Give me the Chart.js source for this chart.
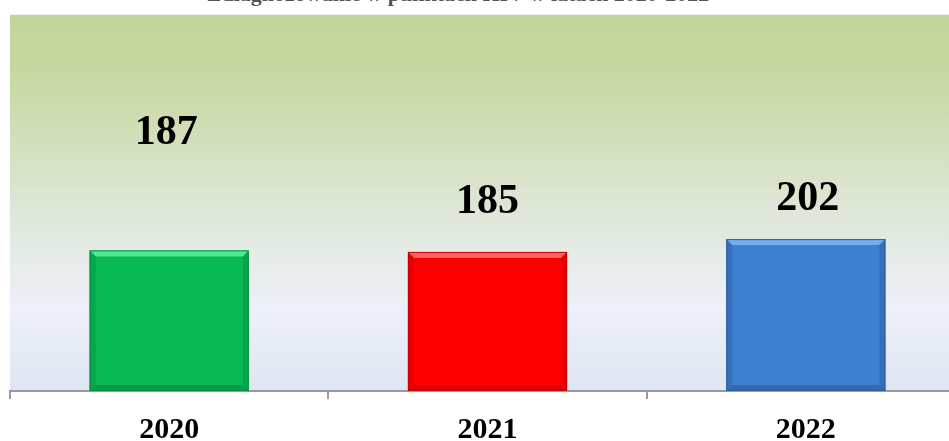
<!DOCTYPE html>
<html lang="pl">
<head>
<meta charset="UTF-8">
<title>HIV 2020-2022</title>
<style>
    html, body { margin: 0; padding: 0; background: #ffffff; overflow: hidden; }
    .chart-container { position: relative; width: 965px; height: 441px; }
</style>
</head>
<body>

<div class="chart-container">
    <canvas id="chart"></canvas>
</div>

<script src="https://cdn.jsdelivr.net/npm/chart.js@4.4.1/dist/chart.umd.min.js"></script>
<script>

// data
const years = ['2020', '2021', '2022'];
const cases = [187, 185, 202];

const titleText = 'Zdiagnozowanie w punktach HIV w latach 2020-2022';

// bar colours: main, light top edge, dark side edge
const barMain = ['#08b955', '#ff0000', '#3f7fcf'];
const barLight = ['#55e592', '#ff6262', '#74aef0'];
const barDark = ['#05913f', '#c80000', '#2d5e9e'];

// label lift above bar top (the original labels were placed by hand)
const labelLift = [117, 50, 40];
const labelShift = [-3, 0, 2];

const serif = '"Liberation Serif", "Times New Roman", serif';

// background of the plot area + the clipped title
const backdrop = {
    id: 'backdrop',
    beforeDraw(chart) {
        const { ctx, chartArea: a } = chart;
        const g = ctx.createLinearGradient(0, a.top, 0, a.bottom);
        g.addColorStop(0, '#c3d699');
        g.addColorStop(0.15, '#c6d8a0');
        g.addColorStop(0.35, '#d3e0bd');
        g.addColorStop(0.58, '#e2e9e1');
        g.addColorStop(0.78, '#edf0f9');
        g.addColorStop(1, '#dfe5f3');
        ctx.save();
        ctx.fillStyle = g;
        ctx.fillRect(a.left, a.top, a.right - a.left, a.bottom - a.top);
        ctx.fillStyle = '#f2f4ee';
        ctx.fillRect(a.left, a.top - 1, a.right - a.left, 1);

        ctx.font = 'bold 22px ' + serif;
        ctx.fillStyle = '#555555';
        ctx.textAlign = 'center';
        ctx.textBaseline = 'alphabetic';
        ctx.fillText(titleText, 458, 1);
        ctx.restore();
    }
};

// bevel look on the bars and the hand placed value labels
const bevel = {
    id: 'bevel',
    afterDatasetsDraw(chart) {
        const { ctx } = chart;
        const meta = chart.getDatasetMeta(0);
        meta.data.forEach((bar, i) => {
            const l = bar.x - bar.width / 2;
            const r = bar.x + bar.width / 2;
            const t = bar.y;
            const b = bar.base;
            const e = 6;
            ctx.save();
            // top
            ctx.fillStyle = barLight[i];
            ctx.beginPath();
            ctx.moveTo(l, t); ctx.lineTo(r, t); ctx.lineTo(r - e, t + e); ctx.lineTo(l + e, t + e);
            ctx.closePath(); ctx.fill();
            // sides
            ctx.fillStyle = barDark[i];
            ctx.globalAlpha = 0.45;
            ctx.beginPath();
            ctx.moveTo(l, t); ctx.lineTo(l + e, t + e); ctx.lineTo(l + e, b - e); ctx.lineTo(l, b);
            ctx.closePath(); ctx.fill();
            ctx.beginPath();
            ctx.moveTo(r, t); ctx.lineTo(r - e, t + e); ctx.lineTo(r - e, b - e); ctx.lineTo(r, b);
            ctx.closePath(); ctx.fill();
            ctx.globalAlpha = 0.7;
            ctx.beginPath();
            ctx.moveTo(l, b); ctx.lineTo(l + e, b - e); ctx.lineTo(r - e, b - e); ctx.lineTo(r, b);
            ctx.closePath(); ctx.fill();
            ctx.globalAlpha = 1;
            ctx.strokeStyle = barDark[i];
            ctx.lineWidth = 1;
            ctx.strokeRect(l + 0.5, t + 0.5, r - l - 1, b - t - 1);

            // value label
            ctx.font = 'bold 42px ' + serif;
            ctx.fillStyle = '#000000';
            ctx.textAlign = 'center';
            ctx.textBaseline = 'middle';
            ctx.fillText(String(cases[i]), bar.x + labelShift[i], t - labelLift[i]);
            ctx.restore();
        });
    }
};

const ctx = document.getElementById('chart').getContext('2d');

const myChart = new Chart(ctx, {
    type: 'bar',
    data: {
        labels: years,
        datasets: [{
            data: cases,
            backgroundColor: barMain,
            borderWidth: 0,
            barPercentage: 0.5,
            categoryPercentage: 1
        }]
    },
    options: {
        responsive: true,
        maintainAspectRatio: false,
        animation: false,
        layout: {
            padding: { left: 10, right: 0, top: 15, bottom: -21 }
        },
        plugins: {
            legend: { display: false },
            tooltip: { enabled: false }
        },
        scales: {
            x: {
                grid: {
                    offset: true,
                    drawOnChartArea: false,
                    drawTicks: true,
                    tickLength: 8,
                    color: '#9a9a9a',
                    lineWidth: 2
                },
                border: { display: true, color: '#9a9a9a', width: 2 },
                ticks: {
                    color: '#000000',
                    padding: 21,
                    font: { family: serif, size: 30, weight: 'bold', lineHeight: 0.7 }
                }
            },
            y: {
                display: false,
                min: 0,
                max: 500
            }
        }
    },
    plugins: [backdrop, bevel]
});

</script>
</body>
</html>
